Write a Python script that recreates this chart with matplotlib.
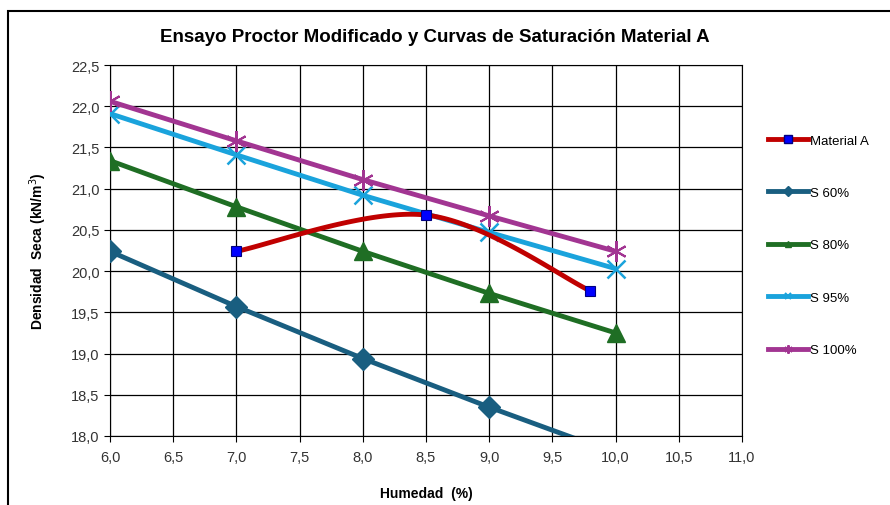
import numpy as np
import matplotlib
matplotlib.use("Agg")
import matplotlib.pyplot as plt
from matplotlib.ticker import MultipleLocator, FuncFormatter
from matplotlib.patches import Rectangle
from matplotlib.lines import Line2D

plt.rcParams['font.family'] = ['Liberation Sans', 'DejaVu Sans']

# humedad (%)
w_mat = [7.0, 8.5, 9.8]
gd_mat = [20.24, 20.68, 19.76]

w_sat = [6.0, 7.0, 8.0, 9.0, 10.0]
s60 = [20.24, 19.57, 18.94, 18.35, 17.79]
s80 = [21.34, 20.78, 20.24, 19.73, 19.25]
s95 = [21.91, 21.41, 20.92, 20.47, 20.03]
s100 = [22.06, 21.58, 21.11, 20.67, 20.24]


# curva suavizada tipo Excel (bezier con tangentes catmull-rom)
def smooth(xs, ys, n=60):
    p = np.column_stack([xs, ys]).astype(float)
    out = [p[0]]
    for i in range(len(p) - 1):
        p0 = p[i - 1] if i > 0 else p[i]
        p3 = p[i + 2] if i + 2 < len(p) else p[i + 1]
        c1 = p[i] + (p[i + 1] - p0) / 6
        c2 = p[i + 1] - (p3 - p[i]) / 6
        t = np.linspace(0, 1, n)[1:, None]
        seg = ((1 - t) ** 3 * p[i] + 3 * t * (1 - t) ** 2 * c1
               + 3 * t ** 2 * (1 - t) * c2 + t ** 3 * p[i + 1])
        out.extend(seg)
    out = np.array(out)
    return out[:, 0], out[:, 1]


fig = plt.figure(figsize=(8.9, 5.06), dpi=100)
fig.patches.append(Rectangle((8 / 890, -0.1), 1.1, 1.1 - 12 / 506,
                             transform=fig.transFigure, fill=False,
                             edgecolor='black', linewidth=1.5))
ax = fig.add_axes([110 / 890, 1 - 437 / 506, 632 / 890, 371 / 506])

c_red = '#C00000'
c60 = '#195E80'
c80 = '#1F6E24'
c95 = '#1AA3DC'
c100 = '#A23592'

sx, sy = smooth(w_mat, gd_mat)
ax.plot(sx, sy, color=c_red, lw=3.5, zorder=5)
ax.plot(w_mat, gd_mat, ls='none', marker='s', ms=7, mfc='#0000FF',
        mec='#000080', mew=0.8, zorder=6)

ax.plot(w_sat, s60, color=c60, lw=3.5, marker='D', ms=11, zorder=4)
ax.plot(w_sat, s80, color=c80, lw=3.5, marker='^', ms=13, zorder=4)
ax.plot(w_sat, s95, color=c95, lw=3.5, marker='x', ms=13, mew=1.8, zorder=4)
ax.plot(w_sat, s100, color=c100, lw=3.5, marker=(6, 2, 0), ms=15, mew=1.5,
        zorder=4)

ax.set_xlim(6.0, 11.0)
ax.set_ylim(18.0, 22.5)
ax.xaxis.set_major_locator(MultipleLocator(0.5))
ax.yaxis.set_major_locator(MultipleLocator(0.5))
fmt = FuncFormatter(lambda v, p: f"{v:.1f}".replace('.', ','))
ax.xaxis.set_major_formatter(fmt)
ax.yaxis.set_major_formatter(fmt)
ax.grid(True, color='black', lw=0.9)
ax.set_axisbelow(True)
for s in ax.spines.values():
    s.set_color('black')
ax.tick_params(direction='out', length=4, labelsize=10.5, labelcolor='#333333',
               colors='black')
ax.tick_params(axis='x', pad=6)

ax.set_xlabel('Humedad  (%)', fontsize=10, fontweight='bold', labelpad=16)
ax.set_ylabel('Densidad  Seca (kN/m$^3$)', fontsize=10, fontweight='bold',
              labelpad=16)
fig.text(435 / 890, 1 - 38 / 506,
         'Ensayo Proctor Modificado y Curvas de Saturación Material A',
         ha='center', va='center', fontsize=13.5, fontweight='bold')

# leyenda
hs = [Line2D([], [], color=c_red, lw=3.5, marker='s', ms=6, mfc='#0000FF', mec='#000080'),
      Line2D([], [], color=c60, lw=3.5, marker='D', ms=5),
      Line2D([], [], color=c80, lw=3.5, marker='^', ms=5),
      Line2D([], [], color=c95, lw=3.5, marker='x', ms=5, mew=1.5),
      Line2D([], [], color=c100, lw=3.5, marker=(6, 2, 0), ms=6, mew=1.5)]
labs = ['Material A', 'S 60%', 'S 80%', 'S 95%', 'S 100%']
fig.legend(hs, labs, loc='upper left', bbox_to_anchor=(763 / 890, 1 - 130 / 506),
           frameon=False, fontsize=9.5, labelspacing=3.05, handlelength=3.0,
           handletextpad=0.15, borderaxespad=0)

fig.savefig('out.png', dpi=100)
